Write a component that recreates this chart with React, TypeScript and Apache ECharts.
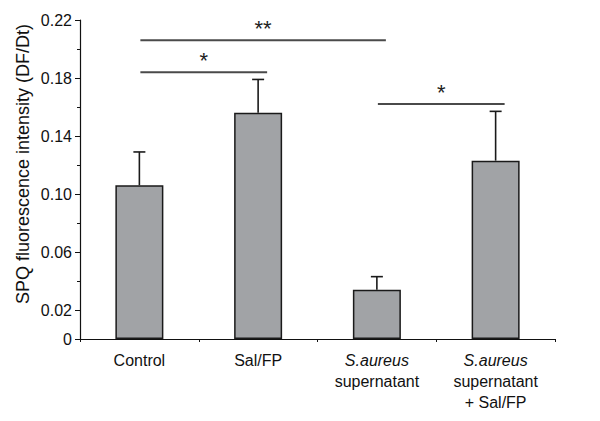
import React, { useEffect, useRef } from "react";
import * as echarts from "echarts";

const categories = [
  "Control",
  "Sal/FP",
  "S.aureus\nsupernatant",
  "S.aureus\nsupernatant\n+ Sal/FP",
];
const means = [0.106, 0.156, 0.034, 0.123];
const errorTops = [0.129, 0.179, 0.043, 0.157];
const yTickLabels = [0, 0.02, 0.06, 0.1, 0.14, 0.18, 0.22];
const yMinorTicks = [0.04, 0.08, 0.12, 0.16, 0.2];
const sigFrom = [0, 0, 2];
const sigTo = [2, 1, 3];
const sigLevel = [0.206, 0.184, 0.162];
const sigMarks = ["**", "*", "*"];
const yAxisTitle = "SPQ fluorescence intensity (DF/Dt)";

const FONT = "'Liberation Sans', Arial, sans-serif";

export default function App() {
  const ref = useRef<HTMLDivElement>(null);
  useEffect(() => {
    if (!ref.current) return;
    const chart = echarts.init(ref.current, null, { renderer: "svg" });
    const errData = means.map((m, i) => [i, m, errorTops[i]]);
    const sigData = sigLevel.map((lv, i) => [sigFrom[i], sigTo[i], lv, i]);
    chart.setOption({
      animation: false,
      textStyle: { fontFamily: FONT },
      grid: { left: 80, right: 45, top: 20, bottom: 82 },
      xAxis: {
        type: "category",
        data: categories,
        boundaryGap: true,
        axisLine: { lineStyle: { color: "#111", width: 1.2 } },
        axisTick: { show: true, length: 3, inside: false, lineStyle: { color: "#111" } },
        axisLabel: {
          margin: 11,
          fontSize: 16,
          lineHeight: 21,
          color: "#111",
          fontFamily: FONT,
          interval: 0,
          formatter: (v: string) => v.replace("S.aureus", "{i|S.aureus}"),
          rich: {
            i: { fontStyle: "italic", fontSize: 16, lineHeight: 21, color: "#111", fontFamily: FONT },
          },
        },
      },
      yAxis: [
        {
          type: "value",
          min: 0,
          max: 0.22,
          interval: 0.02,
          axisLine: { show: true, lineStyle: { color: "#111", width: 1.2 } },
          axisTick: { show: true, length: 5, customValues: yTickLabels, lineStyle: { color: "#111" } },
          axisLabel: {
            customValues: yTickLabels,
            fontSize: 16,
            color: "#111",
            margin: 8,
            fontFamily: FONT,
            formatter: (v: number) => (v === 0 ? "0" : v.toFixed(2)),
          },
          splitLine: { show: false },
        },
        {
          type: "value",
          min: 0,
          max: 0.22,
          interval: 0.02,
          position: "left",
          axisLine: { show: false },
          axisTick: { show: true, length: 3, customValues: yMinorTicks, lineStyle: { color: "#111" } },
          axisLabel: { show: false },
          splitLine: { show: false },
        },
      ],
      graphic: [
        {
          type: "text",
          x: 23,
          y: 164,
          rotation: Math.PI / 2,
          style: {
            text: yAxisTitle,
            fontSize: 18,
            fontFamily: FONT,
            fill: "#111",
            align: "center",
            verticalAlign: "middle",
          },
        },
      ],
      series: [
        {
          type: "bar",
          data: means,
          barWidth: 48,
          itemStyle: { color: "#a1a3a6", borderColor: "#1a1a1a", borderWidth: 1.5 },
          z: 2,
        },
        {
          type: "custom",
          data: errData,
          encode: { x: 0, y: [1, 2] },
          z: 3,
          renderItem: (params: any, api: any) => {
            const i = api.value(0);
            const p0 = api.coord([i, api.value(1)]);
            const p1 = api.coord([i, api.value(2)]);
            const style = { stroke: "#1a1a1a", lineWidth: 1.6 };
            return {
              type: "group",
              children: [
                { type: "line", shape: { x1: p0[0], y1: p0[1], x2: p1[0], y2: p1[1] }, style },
                { type: "line", shape: { x1: p1[0] - 6, y1: p1[1], x2: p1[0] + 6, y2: p1[1] }, style },
              ],
            };
          },
        },
        {
          type: "custom",
          data: sigData,
          encode: { x: [0, 1], y: 2 },
          z: 3,
          renderItem: (params: any, api: any) => {
            const a = api.coord([api.value(0), api.value(2)]);
            const b = api.coord([api.value(1), api.value(2)]);
            const x1 = a[0] + 1;
            const x2 = b[0] + 9;
            const idx = api.value(3);
            return {
              type: "group",
              children: [
                {
                  type: "line",
                  shape: { x1, y1: a[1], x2, y2: a[1] },
                  style: { stroke: "#4a4a4a", lineWidth: 2 },
                },
                {
                  type: "text",
                  x: (x1 + x2) / 2,
                  y: a[1] - 12,
                  style: {
                    text: sigMarks[idx],
                    fontSize: 22,
                    fontFamily: FONT,
                    fill: "#222",
                    align: "center",
                    verticalAlign: "middle",
                  },
                },
              ],
            };
          },
        },
      ],
    });
    return () => chart.dispose();
  }, []);
  return (
    <div
      ref={ref}
      style={{ position: "fixed", left: 0, top: 0, width: 600, height: 421, background: "#fff" }}
    />
  );
}
